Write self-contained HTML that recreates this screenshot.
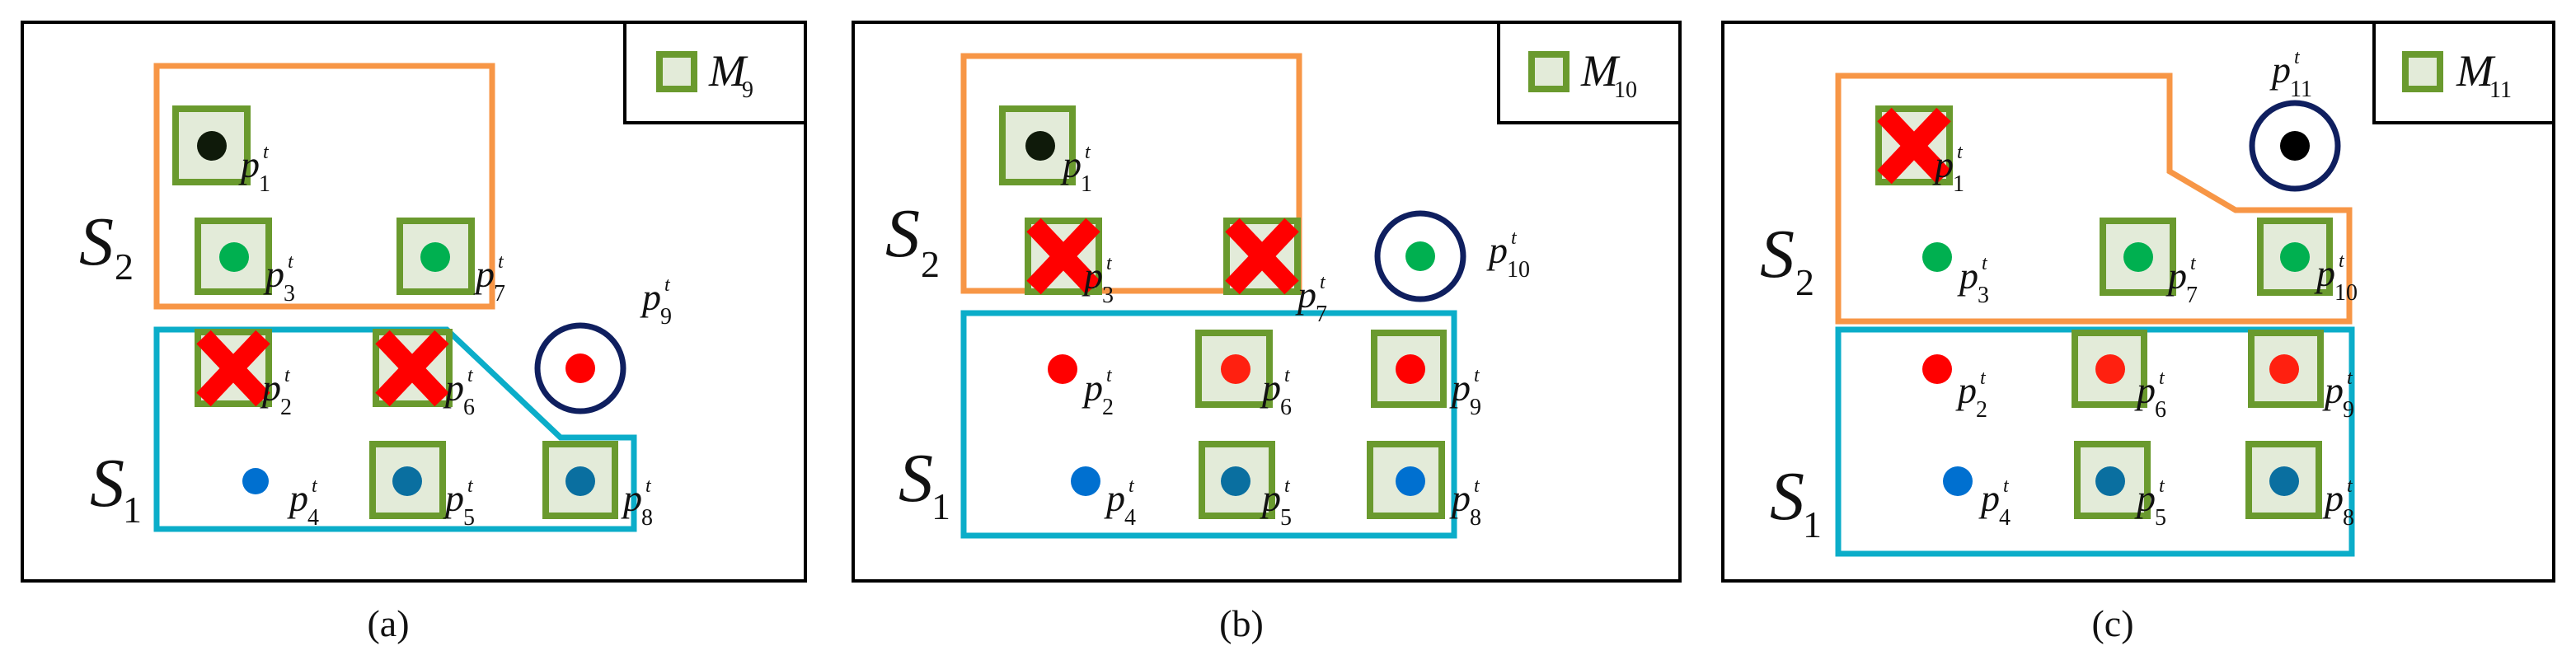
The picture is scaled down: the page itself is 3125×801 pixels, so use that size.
<!DOCTYPE html>
<html><head><meta charset="utf-8"><style>
html,body{margin:0;padding:0;background:#fff;}
svg{display:block}
text{font-family:"Liberation Serif","DejaVu Serif",serif;fill:#111}
.p{font-style:italic;font-size:46px}
.s{font-size:28px}
.t{font-style:italic;font-size:24px}
.S{font-style:italic;font-size:84px}
.Ss{font-size:46px}
.M{font-style:italic;font-size:54px}
.cap{font-size:46px}
.sq{fill:#e3ebd9;stroke:#6a9a2e;stroke-width:8}
.or{fill:none;stroke:#f79646;stroke-width:7}
.cy{fill:none;stroke:#0badc9;stroke-width:7}
.x{stroke:#ff0000;stroke-width:24}
.ring{fill:none;stroke:#0f1f5f;stroke-width:7}
</style></head><body>
<svg width="3125" height="801" viewBox="0 0 3125 801" xmlns="http://www.w3.org/2000/svg" font-family="Liberation Serif, DejaVu Serif, serif">
<defs>
<g id="xx"><line class="x" x1="-36" y1="-38" x2="36" y2="38"/><line class="x" x1="36" y1="-38" x2="-36" y2="38"/></g>
</defs>

<!-- Panel a -->
<rect x="27" y="27" width="950" height="678" fill="none" stroke="#000" stroke-width="4"/>
<polyline points="758,27 758,149 977,149" fill="none" stroke="#000" stroke-width="4"/>
<rect class="sq" x="800" y="66" width="42" height="42"/>
<text class="M" x="860" y="104">M</text><text class="s" x="900" y="118">9</text>
<polygon class="or" points="190,80 597,80 597,372 190,372"/>
<polygon class="cy" points="190,400 542,400 680,531 769,531 769,642 190,642"/>
<rect class="sq" x="213" y="132" width="87" height="89"/><circle cx="257" cy="177" r="18" fill="#0f1a0a"/>
<rect class="sq" x="240" y="268" width="86" height="86"/><circle cx="284" cy="312" r="18" fill="#00b050"/>
<rect class="sq" x="485" y="268" width="87" height="86"/><circle cx="528" cy="312" r="18" fill="#00b050"/>
<rect class="sq" x="240" y="403" width="86" height="87"/><use href="#xx" x="283" y="447"/>
<rect class="sq" x="456" y="403" width="89" height="87"/><use href="#xx" x="500" y="447"/>
<circle class="ring" cx="704" cy="447" r="52"/><circle cx="704" cy="447" r="18" fill="#ff0000"/>
<circle cx="310" cy="584" r="16" fill="#0070d0"/>
<rect class="sq" x="452" y="539" width="85" height="87"/><circle cx="494" cy="584" r="18" fill="#0a6fa0"/>
<rect class="sq" x="662" y="539" width="84" height="87"/><circle cx="704" cy="584" r="18" fill="#0a6fa0"/>
<g transform="translate(292,232)"><text class="p" y="-17">p</text><text class="s" x="22">1</text><text class="t" x="27" y="-40">t</text></g>
<g transform="translate(322,365)"><text class="p" y="-17">p</text><text class="s" x="22">3</text><text class="t" x="27" y="-40">t</text></g>
<g transform="translate(577,365)"><text class="p" y="-17">p</text><text class="s" x="22">7</text><text class="t" x="27" y="-40">t</text></g>
<g transform="translate(779,393)"><text class="p" y="-17">p</text><text class="s" x="22">9</text><text class="t" x="27" y="-40">t</text></g>
<g transform="translate(318,503)"><text class="p" y="-17">p</text><text class="s" x="22">2</text><text class="t" x="27" y="-40">t</text></g>
<g transform="translate(540,503)"><text class="p" y="-17">p</text><text class="s" x="22">6</text><text class="t" x="27" y="-40">t</text></g>
<g transform="translate(351,637)"><text class="p" y="-17">p</text><text class="s" x="22">4</text><text class="t" x="27" y="-40">t</text></g>
<g transform="translate(540,637)"><text class="p" y="-17">p</text><text class="s" x="22">5</text><text class="t" x="27" y="-40">t</text></g>
<g transform="translate(756,637)"><text class="p" y="-17">p</text><text class="s" x="22">8</text><text class="t" x="27" y="-40">t</text></g>
<text class="S" x="96" y="321">S</text><text class="Ss" x="139" y="339">2</text>
<text class="S" x="109" y="614">S</text><text class="Ss" x="149" y="634">1</text>
<text class="cap" x="471" y="772" text-anchor="middle">(a)</text>

<!-- Panel b -->
<rect x="1035" y="27" width="1003" height="678" fill="none" stroke="#000" stroke-width="4"/>
<polyline points="1818,27 1818,149 2038,149" fill="none" stroke="#000" stroke-width="4"/>
<rect class="sq" x="1858" y="66" width="42" height="42"/>
<text class="M" x="1918" y="104">M</text><text class="s" x="1958" y="118">10</text>
<polygon class="or" points="1169,68 1576,68 1576,353 1169,353"/>
<polygon class="cy" points="1169,380 1764,380 1764,650 1169,650"/>
<rect class="sq" x="1216" y="132" width="85" height="89"/><circle cx="1262" cy="177" r="18" fill="#0f1a0a"/>
<rect class="sq" x="1247" y="268" width="86" height="86"/><use href="#xx" x="1290" y="311"/>
<rect class="sq" x="1488" y="268" width="86" height="86"/><use href="#xx" x="1531" y="311"/>
<circle class="ring" cx="1723" cy="311" r="52"/><circle cx="1723" cy="311" r="18" fill="#00b050"/>
<circle cx="1289" cy="448" r="18" fill="#ff0000"/>
<rect class="sq" x="1454" y="404" width="86" height="87"/><circle cx="1499" cy="448" r="18" fill="#ff2010"/>
<rect class="sq" x="1667" y="404" width="84" height="87"/><circle cx="1711" cy="448" r="18" fill="#ff0000"/>
<circle cx="1317" cy="584" r="18" fill="#0070d0"/>
<rect class="sq" x="1458" y="539" width="85" height="87"/><circle cx="1499" cy="584" r="18" fill="#0a6fa0"/>
<rect class="sq" x="1662" y="539" width="87" height="87"/><circle cx="1711" cy="584" r="18" fill="#0070d0"/>
<g transform="translate(1289,232)"><text class="p" y="-17">p</text><text class="s" x="22">1</text><text class="t" x="27" y="-40">t</text></g>
<g transform="translate(1315,367)"><text class="p" y="-17">p</text><text class="s" x="22">3</text><text class="t" x="27" y="-40">t</text></g>
<g transform="translate(1574,390)"><text class="p" y="-17">p</text><text class="s" x="22">7</text><text class="t" x="27" y="-40">t</text></g>
<g transform="translate(1806,336)"><text class="p" y="-17">p</text><text class="s" x="22">10</text><text class="t" x="27" y="-40">t</text></g>
<g transform="translate(1315,503)"><text class="p" y="-17">p</text><text class="s" x="22">2</text><text class="t" x="27" y="-40">t</text></g>
<g transform="translate(1531,503)"><text class="p" y="-17">p</text><text class="s" x="22">6</text><text class="t" x="27" y="-40">t</text></g>
<g transform="translate(1761,503)"><text class="p" y="-17">p</text><text class="s" x="22">9</text><text class="t" x="27" y="-40">t</text></g>
<g transform="translate(1342,637)"><text class="p" y="-17">p</text><text class="s" x="22">4</text><text class="t" x="27" y="-40">t</text></g>
<g transform="translate(1531,637)"><text class="p" y="-17">p</text><text class="s" x="22">5</text><text class="t" x="27" y="-40">t</text></g>
<g transform="translate(1761,637)"><text class="p" y="-17">p</text><text class="s" x="22">8</text><text class="t" x="27" y="-40">t</text></g>
<text class="S" x="1074" y="311">S</text><text class="Ss" x="1117" y="336">2</text>
<text class="S" x="1090" y="608">S</text><text class="Ss" x="1130" y="630">1</text>
<text class="cap" x="1506" y="772" text-anchor="middle">(b)</text>

<!-- Panel c -->
<rect x="2090" y="27" width="1008" height="678" fill="none" stroke="#000" stroke-width="4"/>
<polyline points="2880,27 2880,149 3098,149" fill="none" stroke="#000" stroke-width="4"/>
<rect class="sq" x="2918" y="66" width="42" height="42"/>
<text class="M" x="2980" y="104">M</text><text class="s" x="3020" y="118">11</text>
<polygon class="or" points="2230,92 2632,92 2632,208 2712,255 2850,255 2850,390 2230,390"/>
<polygon class="cy" points="2230,400 2853,400 2853,672 2230,672"/>
<rect class="sq" x="2279" y="132" width="86" height="89"/><use href="#xx" x="2322" y="177"/>
<circle class="ring" cx="2784" cy="177" r="52"/><circle cx="2784" cy="177" r="18" fill="#000"/>
<circle cx="2350" cy="312" r="18" fill="#00b050"/>
<rect class="sq" x="2551" y="268" width="85" height="87"/><circle cx="2594" cy="312" r="18" fill="#00b050"/>
<rect class="sq" x="2742" y="268" width="84" height="87"/><circle cx="2784" cy="312" r="18" fill="#00b050"/>
<circle cx="2350" cy="448" r="18" fill="#ff0000"/>
<rect class="sq" x="2517" y="404" width="84" height="87"/><circle cx="2560" cy="448" r="18" fill="#ff2010"/>
<rect class="sq" x="2731" y="404" width="84" height="87"/><circle cx="2771" cy="448" r="18" fill="#ff2010"/>
<circle cx="2375" cy="584" r="18" fill="#0070d0"/>
<rect class="sq" x="2520" y="539" width="85" height="87"/><circle cx="2560" cy="584" r="18" fill="#0a6fa0"/>
<rect class="sq" x="2728" y="539" width="85" height="87"/><circle cx="2771" cy="584" r="18" fill="#0a6fa0"/>
<g transform="translate(2347,232)"><text class="p" y="-17">p</text><text class="s" x="22">1</text><text class="t" x="27" y="-40">t</text></g>
<g transform="translate(2756,117)"><text class="p" y="-17">p</text><text class="s" x="22">11</text><text class="t" x="27" y="-40">t</text></g>
<g transform="translate(2377,367)"><text class="p" y="-17">p</text><text class="s" x="22">3</text><text class="t" x="27" y="-40">t</text></g>
<g transform="translate(2630,367)"><text class="p" y="-17">p</text><text class="s" x="22">7</text><text class="t" x="27" y="-40">t</text></g>
<g transform="translate(2810,364)"><text class="p" y="-17">p</text><text class="s" x="22">10</text><text class="t" x="27" y="-40">t</text></g>
<g transform="translate(2375,506)"><text class="p" y="-17">p</text><text class="s" x="22">2</text><text class="t" x="27" y="-40">t</text></g>
<g transform="translate(2592,506)"><text class="p" y="-17">p</text><text class="s" x="22">6</text><text class="t" x="27" y="-40">t</text></g>
<g transform="translate(2820,506)"><text class="p" y="-17">p</text><text class="s" x="22">9</text><text class="t" x="27" y="-40">t</text></g>
<g transform="translate(2403,637)"><text class="p" y="-17">p</text><text class="s" x="22">4</text><text class="t" x="27" y="-40">t</text></g>
<g transform="translate(2592,637)"><text class="p" y="-17">p</text><text class="s" x="22">5</text><text class="t" x="27" y="-40">t</text></g>
<g transform="translate(2820,637)"><text class="p" y="-17">p</text><text class="s" x="22">8</text><text class="t" x="27" y="-40">t</text></g>
<text class="S" x="2135" y="336">S</text><text class="Ss" x="2178" y="358">2</text>
<text class="S" x="2147" y="630">S</text><text class="Ss" x="2187" y="652">1</text>
<text class="cap" x="2563" y="772" text-anchor="middle">(c)</text>
</svg>
</body></html>
